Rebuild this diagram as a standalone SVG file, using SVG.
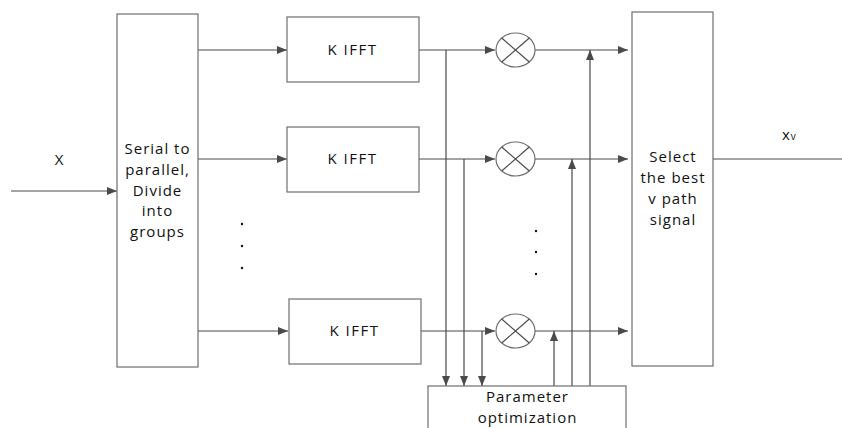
<svg xmlns="http://www.w3.org/2000/svg" width="842" height="428" viewBox="0 0 842 428">
<style>
.box{fill:#fff;stroke:#6e6e6e;stroke-width:1.2}
.ln{fill:none;stroke:#4a4a4a;stroke-width:1.2}
.t{font-family:"Open Sans","Noto Sans",sans-serif;font-size:15px;letter-spacing:1px;fill:#111;text-anchor:middle}
.k{letter-spacing:1.5px}
.dot{fill:#111}
</style>
<defs>
<marker id="ah" viewBox="0 0 10 10" refX="10" refY="5" markerWidth="10" markerHeight="10" markerUnits="userSpaceOnUse" orient="auto">
<path d="M0,1 L10,5 L0,9 Z" fill="#4a4a4a"/>
</marker>
</defs>
<rect width="842" height="428" fill="#fff"/>
<g id="connectors">
<line class="ln" x1="11" y1="191" x2="117" y2="191" marker-end="url(#ah)"/>
<line class="ln" x1="198" y1="50" x2="287" y2="50" marker-end="url(#ah)"/>
<line class="ln" x1="198" y1="159" x2="287" y2="159" marker-end="url(#ah)"/>
<line class="ln" x1="198" y1="331" x2="288" y2="331" marker-end="url(#ah)"/>
<line class="ln" x1="419" y1="50" x2="495" y2="50" marker-end="url(#ah)"/>
<line class="ln" x1="419" y1="159" x2="495" y2="159" marker-end="url(#ah)"/>
<line class="ln" x1="421" y1="331" x2="495" y2="331" marker-end="url(#ah)"/>
<line class="ln" x1="535" y1="50" x2="628" y2="50" marker-end="url(#ah)"/>
<line class="ln" x1="535" y1="159" x2="628" y2="159" marker-end="url(#ah)"/>
<line class="ln" x1="535" y1="331" x2="628" y2="331" marker-end="url(#ah)"/>
<line class="ln" x1="446" y1="50" x2="446" y2="386" marker-end="url(#ah)"/>
<line class="ln" x1="464" y1="159" x2="464" y2="386" marker-end="url(#ah)"/>
<line class="ln" x1="482" y1="331" x2="482" y2="386" marker-end="url(#ah)"/>
<line class="ln" x1="554" y1="386" x2="554" y2="331" marker-end="url(#ah)"/>
<line class="ln" x1="572" y1="386" x2="572" y2="159" marker-end="url(#ah)"/>
<line class="ln" x1="590" y1="386" x2="590" y2="50" marker-end="url(#ah)"/>
<line class="ln" x1="713" y1="159" x2="842" y2="159"/>
</g>
<g id="serial">
<rect class="box" x="117" y="14" width="81" height="353"/>
<text class="t" x="157.5" y="154">Serial to</text>
<text class="t" x="157.5" y="175">parallel,</text>
<text class="t" x="157.5" y="195.5">Divide</text>
<text class="t" x="157.5" y="216">into</text>
<text class="t" x="157.5" y="236.5">groups</text>
</g>
<g id="ifft1">
<rect class="box" x="287" y="17" width="132" height="65"/>
<text class="t k" x="352.5" y="55">K IFFT</text>
</g>
<g id="ifft2">
<rect class="box" x="287" y="127" width="132" height="65"/>
<text class="t k" x="352.5" y="164">K IFFT</text>
</g>
<g id="ifft3">
<rect class="box" x="289" y="299" width="132" height="65"/>
<text class="t k" x="354.5" y="336">K IFFT</text>
</g>
<g id="mul1">
<ellipse class="box" cx="515.5" cy="50" rx="19.5" ry="17" stroke="#4a4a4a"/>
<path class="ln" d="M501.7,38 L529.3,62 M529.3,38 L501.7,62"/>
</g>
<g id="mul2">
<ellipse class="box" cx="515.5" cy="159" rx="19.5" ry="17" stroke="#4a4a4a"/>
<path class="ln" d="M501.7,147 L529.3,171 M529.3,147 L501.7,171"/>
</g>
<g id="mul3">
<ellipse class="box" cx="515.5" cy="331" rx="19.5" ry="17" stroke="#4a4a4a"/>
<path class="ln" d="M501.7,319 L529.3,343 M529.3,319 L501.7,343"/>
</g>
<g id="select">
<rect class="box" x="632" y="12" width="81" height="354"/>
<text class="t" x="673" y="162">Select</text>
<text class="t" x="673" y="183">the best</text>
<text class="t" x="673" y="204">v path</text>
<text class="t" x="673" y="225">signal</text>
</g>
<g id="param">
<rect class="box" x="428" y="386" width="198" height="60"/>
<text class="t" x="527.5" y="402">Parameter</text>
<text class="t" x="527.5" y="423">optimization</text>
</g>
<g id="labels">
<text class="t" x="59.5" y="164.5">X</text>
<text class="t" x="782" y="140" style="text-anchor:start">x<tspan font-size="10px">v</tspan></text>
<circle class="dot" cx="242" cy="224" r="1.2"/>
<circle class="dot" cx="242" cy="246" r="1.2"/>
<circle class="dot" cx="242" cy="268" r="1.2"/>
<circle class="dot" cx="536" cy="231" r="1.2"/>
<circle class="dot" cx="536" cy="252" r="1.2"/>
<circle class="dot" cx="536" cy="274" r="1.2"/>
</g>
</svg>
